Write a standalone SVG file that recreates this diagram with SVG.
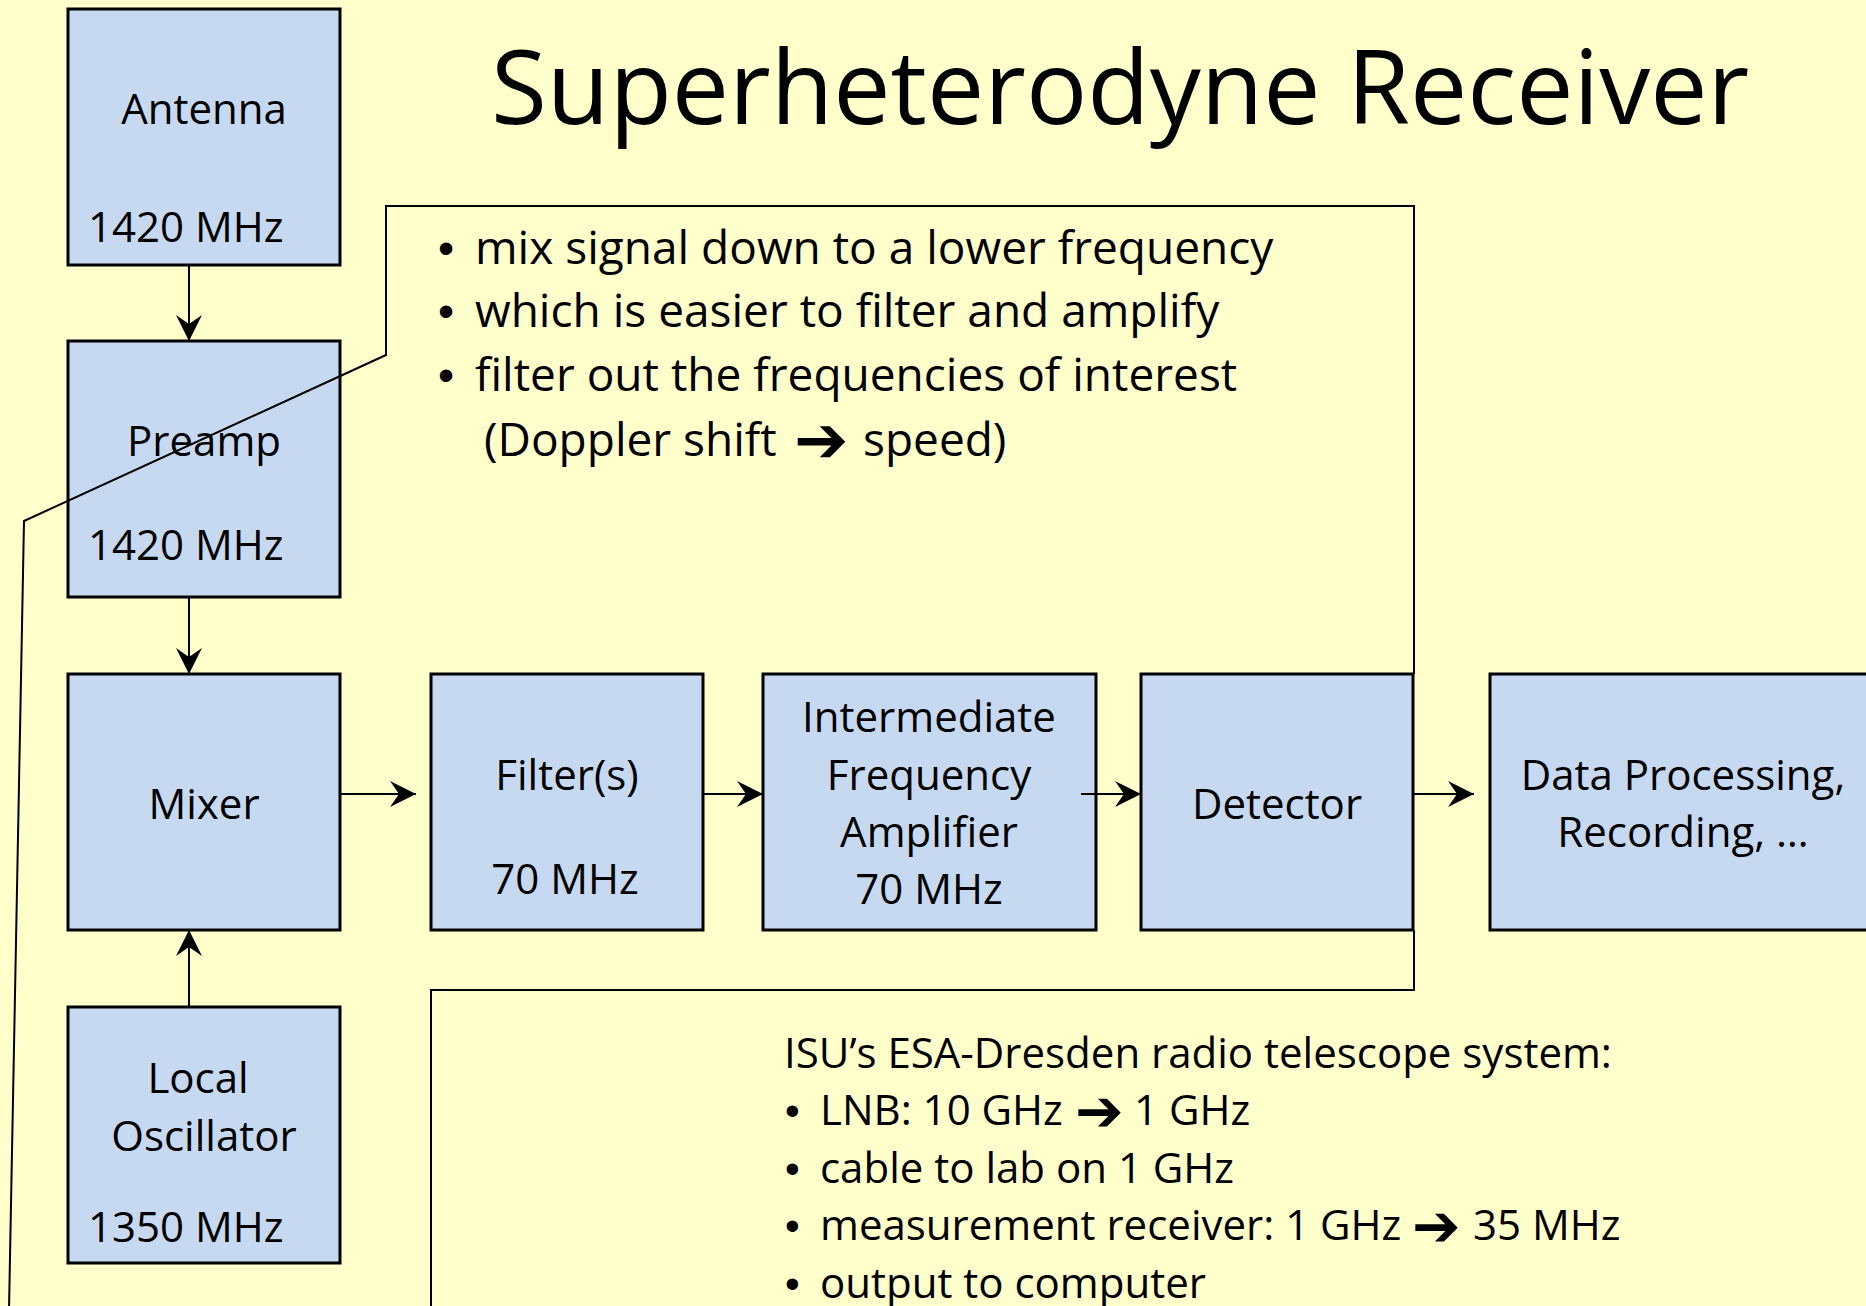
<svg xmlns="http://www.w3.org/2000/svg" width="1866" height="1306" viewBox="0 0 1866 1306">
  <defs>
    <marker id="head" markerUnits="userSpaceOnUse" markerWidth="28" markerHeight="28" refX="26" refY="13" orient="auto">
      <path d="M0,0 L26,13 L0,26 L9,13 Z" fill="#000"/>
    </marker>
    <style>
      .bg { fill: #FFFFCC; }
      .box { fill: #C6D9F0; stroke: #000; stroke-width: 3; }
      .lbl { font-family: "Open Sans", "Noto Sans", sans-serif; font-size: 42px; fill: #000; }
      .mid { text-anchor: middle; }
      .title { font-family: "Open Sans", "Noto Sans", sans-serif; font-size: 102px; fill: #000; text-anchor: middle; }
      .note { font-family: "Open Sans", "Noto Sans", sans-serif; font-size: 46px; fill: #000; }
      .note2 { font-family: "Open Sans", "Noto Sans", sans-serif; font-size: 42px; fill: #000; }
      .dot { font-family: "Liberation Sans", Arial, sans-serif; }
      .sym { font-family: "DejaVu Sans", sans-serif; font-weight: bold; }
      .wire { fill: none; stroke: #000; stroke-width: 2; marker-end: url(#head); }
      .callout { fill: none; stroke: #000; stroke-width: 2; stroke-linejoin: miter; }
    </style>
  </defs>

  <rect class="bg" x="0" y="0" width="1866" height="1306"/>

  <text class="title" x="1120" y="124">Superheterodyne Receiver</text>

  <!-- signal chain blocks -->
  <g id="antenna">
    <rect class="box" x="68" y="9" width="272" height="256"/>
    <text class="lbl mid" x="204" y="124">Antenna</text>
    <text class="lbl" x="88" y="242">1420 MHz</text>
  </g>
  <g id="preamp">
    <rect class="box" x="68" y="341" width="272" height="256"/>
    <text class="lbl mid" x="204" y="456">Preamp</text>
    <text class="lbl" x="88" y="560">1420 MHz</text>
  </g>
  <g id="mixer">
    <rect class="box" x="68" y="674" width="272" height="256"/>
    <text class="lbl mid" x="204" y="819">Mixer</text>
  </g>
  <g id="local-oscillator">
    <rect class="box" x="68" y="1007" width="272" height="256"/>
    <text class="lbl mid" x="198" y="1093">Local</text>
    <text class="lbl mid" x="204" y="1151">Oscillator</text>
    <text class="lbl" x="88" y="1242">1350 MHz</text>
  </g>
  <g id="filter">
    <rect class="box" x="431" y="674" width="272" height="256"/>
    <text class="lbl mid" x="567" y="790">Filter(s)</text>
    <text class="lbl mid" x="565" y="894">70 MHz</text>
  </g>
  <g id="if-amplifier">
    <rect class="box" x="763" y="674" width="333" height="256"/>
    <text class="lbl mid" x="929" y="732">Intermediate</text>
    <text class="lbl mid" x="929" y="790">Frequency</text>
    <text class="lbl mid" x="929" y="847">Amplifier</text>
    <text class="lbl mid" x="929" y="904">70 MHz</text>
  </g>
  <g id="detector">
    <rect class="box" x="1141" y="674" width="272" height="256"/>
    <text class="lbl mid" x="1277" y="819">Detector</text>
  </g>
  <g id="data-processing">
    <rect class="box" x="1490" y="674" width="390" height="256"/>
    <text class="lbl mid" x="1683" y="790">Data Processing,</text>
    <text class="lbl mid" x="1683" y="847">Recording, …</text>
  </g>

  <!-- connectors -->
  <g id="connectors">
    <line class="wire" x1="189" y1="265" x2="189" y2="341"/>
    <line class="wire" x1="189" y1="597" x2="189" y2="674"/>
    <line class="wire" x1="189" y1="1007" x2="189" y2="930"/>
    <line class="wire" x1="340" y1="794" x2="416" y2="794"/>
    <line class="wire" x1="703" y1="794" x2="763" y2="794"/>
    <line class="wire" x1="1081" y1="794" x2="1141" y2="794"/>
    <line class="wire" x1="1413" y1="794" x2="1474" y2="794"/>
  </g>

  <!-- annotation callouts -->
  <g id="callout-mixing">
    <path class="callout" d="M9,1310 L24,521 L386,355 L386,206 L1414,206 L1414,674"/>
    <text class="note"><tspan class="dot" x="438" y="264">•</tspan><tspan x="475" y="264">mix signal down to a lower frequency</tspan></text>
    <text class="note"><tspan class="dot" x="438" y="327">•</tspan><tspan x="475" y="327">which is easier to filter and amplify</tspan></text>
    <text class="note"><tspan class="dot" x="438" y="391">•</tspan><tspan x="475" y="391">filter out the frequencies of interest</tspan></text>
    <text class="note"><tspan x="484" y="456">(Doppler shift</tspan><tspan class="sym" x="794" y="462" font-size="65">➔</tspan><tspan x="863" y="456">speed)</tspan></text>
  </g>
  <g id="callout-system">
    <path class="callout" d="M1414,930 L1414,990 L431,990 L431,1310"/>
    <text class="note2" x="784" y="1068">ISU’s ESA-Dresden radio telescope system:</text>
    <text class="note2"><tspan class="dot" x="785" y="1125">•</tspan><tspan x="820" y="1125">LNB: 10 GHz</tspan><tspan class="sym" x="1075" y="1131" font-size="58">➔</tspan><tspan x="1134" y="1125">1 GHz</tspan></text>
    <text class="note2"><tspan class="dot" x="785" y="1183">•</tspan><tspan x="820" y="1183">cable to lab on 1 GHz</tspan></text>
    <text class="note2"><tspan class="dot" x="785" y="1240">•</tspan><tspan x="820" y="1240">measurement receiver: 1 GHz</tspan><tspan class="sym" x="1412" y="1246" font-size="58">➔</tspan><tspan x="1473" y="1240">35 MHz</tspan></text>
    <text class="note2"><tspan class="dot" x="785" y="1298">•</tspan><tspan x="820" y="1298">output to computer</tspan></text>
  </g>
</svg>
